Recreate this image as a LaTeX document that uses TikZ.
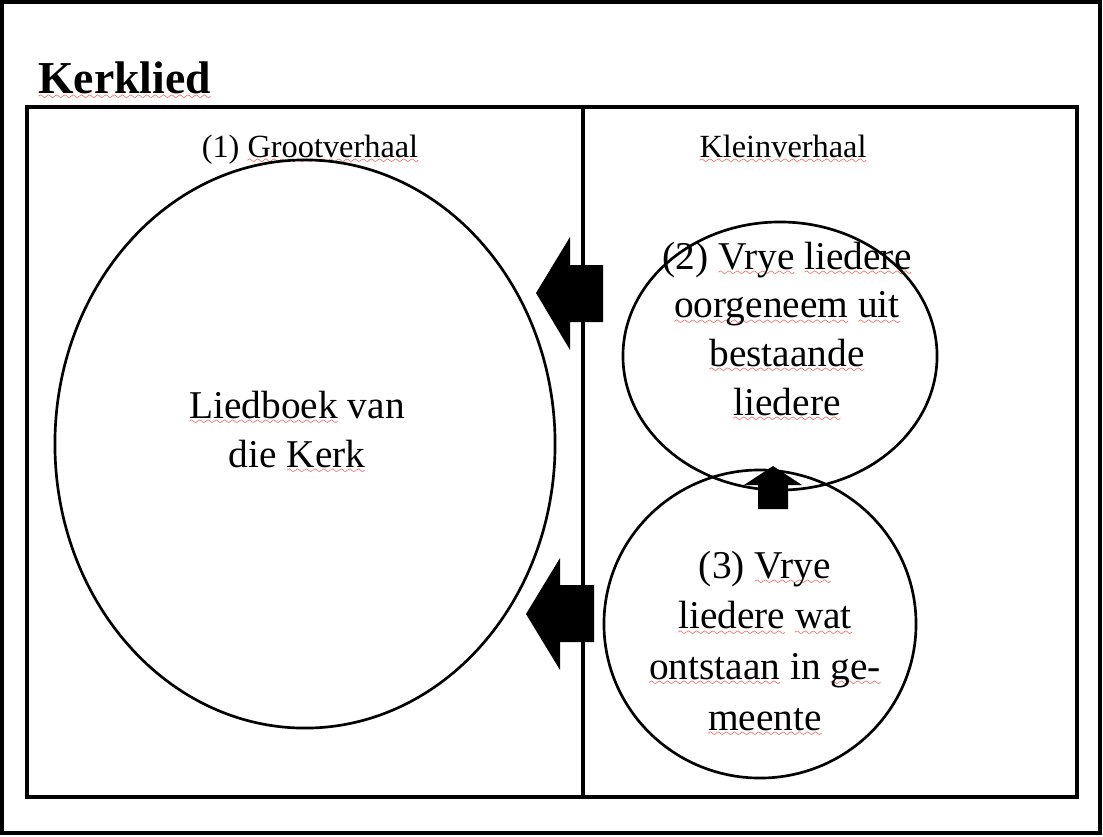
\documentclass[tikz,border=0pt]{standalone}
\usepackage{fontspec}
\setmainfont{Liberation Serif}
\usepackage{xcolor}
\usepackage{tikz}
\usetikzlibrary{shapes.geometric,positioning}
\definecolor{spellred}{RGB}{235,25,25}
\font\wavefont=lasy8
\newcommand{\spell}[1]{\leavevmode\setbox0\hbox{#1}\rlap{\lower4.6pt\hbox to\wd0{\color{spellred}\xleaders\hbox{\wavefont\char58}\hfill}}\box0\relax}

\begin{document}
\begin{tikzpicture}[
    x=0.025cm, y=-0.025cm,
    frame/.style={draw, line width=2.4pt},
    panel/.style={draw, line width=2.5pt},
    divider/.style={draw, line width=2.8pt},
    bubble/.style={ellipse, draw, line width=1.9pt, inner sep=0pt},
    heading/.style={anchor=base, font=\fontsize{23}{27}\selectfont},
    bubbletext/.style={anchor=base, align=center, inner sep=0pt, font=\fontsize{28}{34.5}\selectfont},
    blockarrow/.style={fill=black}
]
\useasboundingbox (0,0) rectangle (1103,836);

% Outer frame
\draw[frame] (2,2) rectangle (1100,833);

% Title
\node[anchor=base west, inner sep=0pt, font=\fontsize{32.5}{39}\selectfont\bfseries] (title) at (38,93) {\spell{Kerklied}};

% Panel with divider
\draw[panel] (27,107) rectangle (1077,797);
\draw[divider] (583,107) -- (583,797);

% Headings
\node[heading] (groot) at (310,157) {(1) \spell{Grootverhaal}};
\node[heading] (klein) at (783,157) {\spell{Kleinverhaal}};

% Circles
\node[bubble, minimum width=12.5cm, minimum height=14.2cm] (liedboek) at (305,444) {};
\node[bubble, minimum width=7.85cm, minimum height=6.7cm] (vrye) at (780,356) {};
\node[bubble, minimum width=7.8cm, minimum height=7.7cm] (gemeente) at (760,624) {};

% Circle texts (base = last line)
\node[bubbletext] (liedboektext) at (297,467) {\spell{Liedboek} van\\die \spell{Kerk}};
\node[bubbletext] (vryetext) at (787,415) {(2) \spell{Vrye} \spell{liedere}\\\spell{oorgeneem} \spell{uit}\\\spell{bestaande}\\\spell{liedere}};
\node[bubbletext, font=\fontsize{28}{36}\selectfont] (gemeentetext) at (765,730) {(3) \spell{Vrye}\\\spell{liedere} \spell{wat}\\\spell{ontstaan} in \spell{ge-}\\\spell{meente}};

% Block arrows
\coordinate (tipa) at (536,293);
\coordinate (tipb) at (526,614);
\coordinate (tipc) at (773,466);
\fill[blockarrow] (tipa) -- ++(34,-56) -- ++(0,28) -- ++(33,0) -- ++(0,57) -- ++(-33,0) -- ++(0,28) -- cycle;
\fill[blockarrow] (tipb) -- ++(34,-56) -- ++(0,27) -- ++(34,0) -- ++(0,57) -- ++(-34,0) -- ++(0,28) -- cycle;
\fill[blockarrow] (tipc) -- ++(29,19) -- ++(-14,0) -- ++(0,24) -- ++(-30,0) -- ++(0,-24) -- ++(-14,0) -- cycle;

\end{tikzpicture}
\end{document}
